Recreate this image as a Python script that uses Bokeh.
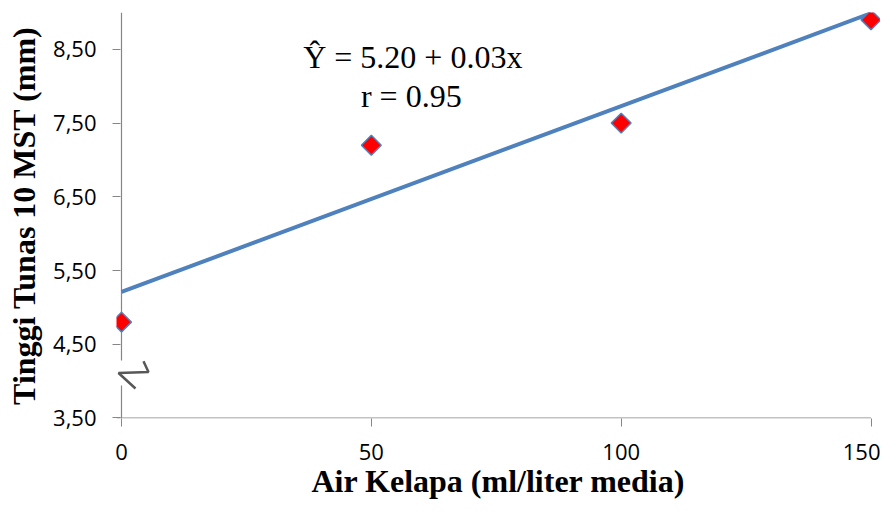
from bokeh.plotting import figure
from bokeh.models import FixedTicker, Range1d, Label
from bokeh.embed import file_html
from bokeh.resources import INLINE

# ---- data ----
air_kelapa = [0, 50, 100, 150]
tinggi_tunas = [4.80, 7.20, 7.50, 8.90]
reg_intercept = 5.21
reg_slope = 0.0252
y_ticks = [3.5, 4.5, 5.5, 6.5, 7.5, 8.5]
y_tick_labels = ["3,50", "4,50", "5,50", "6,50", "7,50", "8,50"]
x_ticks = [0, 50, 100, 150]
equation_text = "Ŷ = 5.20 + 0.03x"
r_text = "r = 0.95"

AXIS_COLOR = "#868686"
BLUE = "#4F81BD"

p = figure(width=880, height=501, output_backend="svg", toolbar_location=None,
           x_range=Range1d(-1, 151.9), y_range=Range1d(3.493, 9.0),
           min_border_left=116, min_border_right=0, min_border_top=12,
           min_border_bottom=81)
p.outline_line_color = None
p.grid.visible = False
p.background_fill_color = "white"

# y axis
ya = p.yaxis[0]
ya.ticker = FixedTicker(ticks=y_ticks)
ya.major_label_overrides = {t: l for t, l in zip(y_ticks, y_tick_labels)}
ya.axis_line_color = None
ya.major_tick_line_color = AXIS_COLOR
ya.major_tick_out = 4
ya.major_tick_in = 4
ya.minor_tick_line_color = None
ya.major_label_text_font = "Open Sans"
ya.major_label_text_font_size = "22px"
ya.major_label_text_color = "#000000"
ya.major_label_standoff = 16
ya.axis_label = "Tinggi Tunas 10 MST (mm)"
ya.axis_label_text_font = "Liberation Serif"
ya.axis_label_text_font_style = "bold"
ya.axis_label_text_font_size = "32px"
ya.axis_label_text_color = "#000000"
ya.axis_label_standoff = 8

# x axis
xa = p.xaxis[0]
xa.ticker = FixedTicker(ticks=x_ticks)
xa.axis_line_color = None
xa.major_tick_line_color = AXIS_COLOR
xa.major_tick_out = 8
xa.major_tick_in = 0
xa.minor_tick_line_color = None
xa.major_label_text_font = "Open Sans"
xa.major_label_text_font_size = "22px"
xa.major_label_text_color = "#000000"
xa.major_label_standoff = 17
xa.axis_label = "Air Kelapa (ml/liter media)"
xa.axis_label_text_font = "Liberation Serif"
xa.axis_label_text_font_style = "bold"
xa.axis_label_text_font_size = "32px"
xa.axis_label_text_color = "#000000"
xa.axis_label_standoff = 0

# axis lines drawn manually (with break on y axis)
y_min, y_max = 3.5, 9.0
break_lo, break_hi = 3.94, 4.28
p.segment(x0=[0, 0], y0=[y_min, break_hi], x1=[0, 0], y1=[break_lo, y_max],
          line_color=AXIS_COLOR, line_width=1.2)
p.segment(x0=[-1], y0=[y_min], x1=[x_ticks[-1]], y1=[y_min],
          line_color=AXIS_COLOR, line_width=1.2)

# break symbol
bx = [4.4, 5.4, -0.6, 2.8]
by = [4.27, 4.125, 4.11, 3.90]
p.line(bx, by, line_color="#3a3a3a", line_width=2.5, line_alpha=0.85)

# regression line
x_line = [x_ticks[0], x_ticks[-1]]
y_line = [reg_intercept + reg_slope * x for x in x_line]
p.line(x_line, y_line, line_color=BLUE, line_width=4)

# data points
p.scatter(air_kelapa, tinggi_tunas, marker="square", angle=0.785398, size=14,
          fill_color="#FF0000", line_color=BLUE, line_width=1.5)

# equation labels
p.add_layout(Label(x=58.3, y=8.394, text=equation_text, text_align="center",
                   text_baseline="alphabetic", text_font="Liberation Serif",
                   text_font_size="32px", text_color="#000000"))
p.add_layout(Label(x=58.0, y=7.862, text=r_text, text_align="center",
                   text_baseline="alphabetic", text_font="Liberation Serif",
                   text_font_size="32px", text_color="#000000"))

open("out.html", "w").write(file_html(p, INLINE))
